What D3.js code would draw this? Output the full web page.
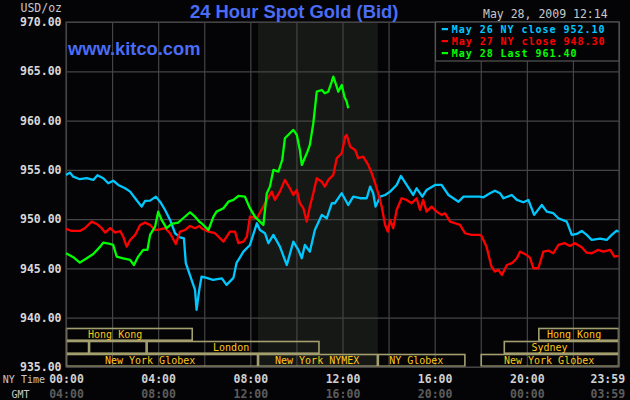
<!DOCTYPE html>
<html>
<head>
<meta charset="utf-8">
<script src="https://cdn.jsdelivr.net/npm/d3@7"></script>
<style>
  html, body { margin: 0; padding: 0; background: #040407; }
  svg { display: block; }
</style>
</head>
<body>
<svg id="chart" width="630" height="400"></svg>
<script>
// ---------------- DATA ----------------
const priceTicks = [935, 940, 945, 950, 955, 960, 965, 970];
const gridMinutes = [0, 120, 240, 360, 480, 600, 720, 840, 960, 1080, 1200, 1320, 1440];
const labelMinutes = [0, 240, 480, 720, 960, 1200, 1439];
const nyTimeLabels = ["00:00", "04:00", "08:00", "12:00", "16:00", "20:00", "23:59"];
const gmtLabels = ["04:00", "08:00", "12:00", "16:00", "20:00", "00:00", "03:59"];

const chartTitle = "24 Hour Spot Gold (Bid)";
const stamp = "May 28, 2009 12:14";
const seriesNames = ["May 26 NY close 952.10", "May 27 NY close 948.30", "May 28 Last 961.40"];

// [minute of NY day, price]
const may26 = [
  [0,954.48],[10,954.72],[19,954.31],[36,954.05],[54,954.15],[71,953.98],[82,954.45],[97,954.15],
  [110,953.64],[123,953.90],[136,953.47],[154,953.13],[167,952.79],[180,952.12],[197,951.27],[206,951.85],
  [219,951.88],[234,952.28],[245,951.77],[258,950.93],[271,949.92],[284,948.57],[297,948.16],[307,948.06],
  [312,945.53],[327,943.83],[336,942.82],[340,940.79],[347,942.82],[353,944.17],[366,944.04],[383,943.83],
  [406,944.00],[418,943.33],[436,944.04],[444,945.56],[449,945.86],[462,946.70],[479,947.38],[497,949.58],
  [505,948.90],[518,948.57],[527,947.56],[540,948.40],[557,947.21],[575,945.35],[592,947.72],[605,946.88],
  [614,946.03],[622,947.38],[635,946.70],[648,948.90],[666,950.43],[679,950.09],[692,951.61],[700,951.61],
  [718,952.63],[735,951.44],[748,952.28],[766,952.12],[783,952.12],[792,953.30],[800,952.63],[806,951.27],
  [818,952.28],[831,952.45],[844,952.79],[861,953.47],[872,954.38],[887,953.47],[904,952.45],[913,953.13],
  [928,952.28],[939,952.96],[961,953.47],[978,953.47],[996,952.45],[1022,951.77],[1035,952.28],[1078,952.28],
  [1087,952.22],[1104,952.63],[1117,952.89],[1130,952.63],[1139,952.12],[1161,952.45],[1174,951.95],[1191,951.71],
  [1204,951.95],[1219,950.43],[1239,951.44],[1252,950.76],[1269,950.60],[1282,950.09],[1304,949.75],[1317,948.40],
  [1330,948.50],[1343,948.80],[1356,948.40],[1369,947.89],[1391,948.02],[1408,947.89],[1421,948.40],[1434,948.83],
  [1439,948.73]
];
const may27 = [
  [0,949.01],[15,948.80],[36,948.80],[49,949.08],[67,949.75],[80,949.51],[93,949.08],[102,948.63],
  [115,949.08],[128,948.63],[141,948.80],[149,948.22],[158,947.21],[167,947.89],[180,948.40],[193,949.41],
  [206,949.65],[219,949.41],[232,948.90],[245,948.97],[258,949.08],[271,948.57],[286,947.48],[297,948.73],
  [310,948.90],[323,949.31],[336,949.08],[347,949.31],[353,949.08],[371,948.73],[388,948.57],[410,947.72],
  [427,948.73],[440,948.73],[449,947.56],[462,947.72],[471,948.22],[479,950.25],[497,950.09],[514,951.27],
  [523,951.95],[536,952.79],[544,951.95],[557,952.79],[570,953.98],[583,953.13],[592,952.45],[601,952.96],
  [609,951.61],[618,951.11],[627,949.75],[635,951.27],[644,952.63],[653,954.15],[666,953.80],[674,953.30],
  [683,953.98],[696,954.48],[705,956.18],[718,956.68],[727,958.37],[731,958.54],[740,957.35],[753,957.02],
  [761,956.18],[774,956.34],[787,955.50],[796,954.66],[805,953.64],[813,952.63],[822,951.27],[831,949.41],
  [838,948.73],[844,949.92],[852,949.08],[861,950.93],[874,952.12],[887,951.95],[900,951.61],[913,952.12],
  [922,950.93],[930,951.95],[939,950.76],[952,951.27],[965,950.76],[978,950.43],[987,950.60],[1000,949.75],
  [1013,949.58],[1026,949.41],[1039,948.57],[1056,948.40],[1078,948.40],[1082,948.30],[1095,947.21],[1108,945.18],
  [1117,944.68],[1126,944.85],[1135,944.34],[1148,945.35],[1161,945.53],[1174,946.03],[1182,946.70],[1195,946.47],
  [1208,946.10],[1217,945.02],[1230,945.02],[1243,946.70],[1256,946.81],[1269,946.54],[1282,947.38],[1299,947.56],
  [1312,947.28],[1325,947.56],[1343,947.15],[1356,946.60],[1369,946.54],[1386,946.88],[1399,946.70],[1417,946.88],
  [1428,946.20],[1439,946.27]
];
const may28 = [
  [0,946.54],[19,946.14],[36,945.59],[54,946.03],[71,946.47],[89,947.21],[97,947.62],[115,947.48],
  [123,947.38],[132,946.20],[149,946.03],[167,945.86],[177,945.35],[188,946.20],[201,946.88],[212,946.88],
  [219,948.40],[232,949.24],[240,950.76],[249,949.92],[262,949.08],[275,949.51],[292,949.65],[305,950.09],
  [323,950.70],[336,950.25],[347,949.75],[353,949.58],[371,948.90],[384,950.25],[392,950.76],[410,951.11],
  [423,951.77],[436,951.95],[449,952.35],[466,952.28],[479,951.11],[492,950.25],[505,949.75],[514,949.41],
  [523,952.63],[531,953.30],[540,954.99],[553,954.82],[563,956.00],[570,958.20],[583,958.71],[592,959.05],
  [601,958.54],[609,957.02],[614,955.50],[627,956.68],[635,957.53],[644,959.73],[653,962.93],[666,963.10],
  [674,962.77],[683,962.93],[692,963.95],[696,964.45],[705,963.44],[709,962.93],[718,963.61],[725,962.42],
  [731,961.92],[735,961.25]
];

// market sessions: row, start minute, end minute, label, label centre minute
const sessionRows = [0, 0, 1, 1, 1, 1, 2, 2, 2, 2];
const sessionStart = [0, 1230, 0, 60, 210, 1140, 0, 500, 812, 1080];
const sessionEnd = [330, 1440, 60, 210, 660, 1440, 500, 812, 1040, 1440];
const sessionLabel = ["Hong Kong", "Hong Kong", "", "", "London", "Sydney", "New York Globex", "New York NYMEX", "NY Globex", "New York Globex"];
const sessionLabelAt = [128, 1323, 30, 135, 430, 1259, 219, 654, 912, 1258];
const nymexShade = [500, 812];

// ---------------- DRAW ----------------
(function draw() {
  const svg = d3.select("#chart");
  const W = 630, H = 400;
  const pL = 66, pR = 619, pT = 22, pB = 367;
  const mono = "'DejaVu Sans Mono', 'Liberation Mono', monospace";
  const sans = "'Liberation Sans', Arial, sans-serif";
  const gridColor = "#444444";

  svg.append("rect").attr("width", W).attr("height", H).attr("fill", "#040407");

  const x = d3.scaleLinear().domain([0, 1440]).range([pL, pR]);
  const y = d3.scaleLinear().domain([935, 970]).range([pB, pT]);

  // NYMEX shading
  svg.append("rect")
    .attr("x", x(nymexShade[0])).attr("y", pT)
    .attr("width", x(nymexShade[1]) - x(nymexShade[0]))
    .attr("height", pB - pT)
    .attr("fill", "#151815");

  // grid
  const gx = svg.append("g").attr("transform", `translate(0,${pB})`)
    .call(d3.axisBottom(x).tickValues(gridMinutes).tickSize(-(pB - pT)).tickFormat(""));
  const gy = svg.append("g").attr("transform", `translate(${pL},0)`)
    .call(d3.axisLeft(y).tickValues(priceTicks).tickSize(-(pR - pL)).tickFormat(""));
  [gx, gy].forEach(g => {
    g.select(".domain").remove();
    g.selectAll("line").attr("stroke", gridColor).attr("stroke-width", 1.2);
  });

  // market session boxes
  const rowTop = [328, 341, 354];
  const rowH = 12.7;
  const sessions = sessionRows.map((r, i) => ({ r, s: sessionStart[i], e: sessionEnd[i], label: sessionLabel[i], at: sessionLabelAt[i] }));
  const sg = svg.append("g");
  sg.selectAll("rect").data(sessions).join("rect")
    .attr("x", d => x(d.s) + 0.5)
    .attr("y", d => rowTop[d.r] + 0.5)
    .attr("width", d => x(d.e) - x(d.s) - 1)
    .attr("height", rowH - 1)
    .attr("fill", "none")
    .attr("stroke", "#a39f6e")
    .attr("stroke-width", 1.6);
  sg.selectAll("text").data(sessions.filter(d => d.label)).join("text")
    .attr("x", d => x(d.at))
    .attr("y", d => rowTop[d.r] + 10.3)
    .attr("text-anchor", "middle")
    .attr("font-family", mono)
    .attr("font-size", 10)
    .attr("fill", "#ffc61a")
    .text(d => d.label);

  // plot border
  svg.append("rect")
    .attr("x", pL).attr("y", pT).attr("width", pR - pL).attr("height", pB - pT)
    .attr("fill", "none").attr("stroke", gridColor).attr("stroke-width", 1.2);

  // series lines
  const line = d3.line().x(d => x(d[0])).y(d => y(d[1]));
  const series = [
    { data: may26, color: "#00c8ff" },
    { data: may27, color: "#ff0000" },
    { data: may28, color: "#00ff00" }
  ];
  svg.append("g").selectAll("path").data(series).join("path")
    .attr("d", d => line(d.data))
    .attr("fill", "none")
    .attr("stroke", d => d.color)
    .attr("stroke-width", 2.3)
    .attr("stroke-linejoin", "round");

  // y labels
  const yl = svg.append("g").attr("transform", `translate(${pL},0)`)
    .call(d3.axisLeft(y).tickValues(priceTicks).tickSize(0).tickPadding(4.5).tickFormat(d3.format(".2f")));
  yl.select(".domain").remove();
  yl.selectAll("text").attr("font-family", mono).attr("font-size", 11.5).attr("font-weight", "bold")
    .attr("fill", "#d8d8d8");

  svg.append("text").attr("x", 62).attr("y", 11.7).attr("text-anchor", "end")
    .attr("font-family", mono).attr("font-size", 11.5).attr("fill", "#c8c8c8").text("USD/oz");

  // x labels (NY time and GMT)
  function timeRow(labels, yPos, color) {
    const g = svg.append("g").attr("transform", `translate(0,${yPos})`)
      .call(d3.axisBottom(x).tickValues(labelMinutes).tickSize(0).tickPadding(0)
        .tickFormat((d, i) => labels[i]));
    g.select(".domain").remove();
    g.selectAll("text").attr("y", 0).attr("dy", 0)
      .attr("font-family", mono).attr("font-size", 11.5).attr("font-weight", "bold").attr("fill", color);
    g.selectAll("text").filter((d, i) => i === labelMinutes.length - 1)
      .attr("text-anchor", "end").attr("dx", 6);
  }
  timeRow(nyTimeLabels, 382.7, "#d0d0d0");
  timeRow(gmtLabels, 397.5, "#5c5c5c");

  svg.append("text").attr("x", 45).attr("y", 383.3).attr("text-anchor", "end")
    .attr("font-family", mono).attr("font-size", 10).attr("fill", "#c8c8c8").text("NY Time");
  svg.append("text").attr("x", 29.5).attr("y", 397.5).attr("text-anchor", "end")
    .attr("font-family", mono).attr("font-size", 10).attr("fill", "#c8c8c8").text("GMT");

  // title, site, stamp
  svg.append("text").attr("x", 190).attr("y", 17.5)
    .attr("font-family", sans).attr("font-size", 18.4).attr("font-weight", "bold").attr("fill", "#4b6df5").text(chartTitle);
  svg.append("text").attr("x", 68).attr("y", 55)
    .attr("font-family", sans).attr("font-size", 18.3).attr("font-weight", "bold").attr("fill", "#4b6df5").text("www.kitco.com");
  svg.append("text").attr("x", 483).attr("y", 18)
    .attr("font-family", mono).attr("font-size", 11.5).attr("fill", "#c8c8c8").text(stamp);

  // legend
  const lg = svg.append("g");
  lg.append("rect").attr("x", 435.5).attr("y", 22).attr("width", 183.5).attr("height", 39)
    .attr("fill", "#040407").attr("stroke", "#555555").attr("stroke-width", 1.2);
  const legendRows = lg.selectAll("g.row").data(series).join("g").attr("class", "row")
    .attr("transform", (d, i) => `translate(0,${29 + i * 12})`);
  legendRows.append("rect").attr("x", 441.7).attr("y", -1).attr("width", 6.3).attr("height", 2.2)
    .attr("fill", d => d.color);
  legendRows.append("text").attr("x", 451.7).attr("y", 4)
    .attr("font-family", mono).attr("font-size", 10).attr("letter-spacing", 0.97).attr("font-weight", "bold")
    .attr("fill", d => d.color).text((d, i) => seriesNames[i]);
})();
</script>
</body>
</html>
